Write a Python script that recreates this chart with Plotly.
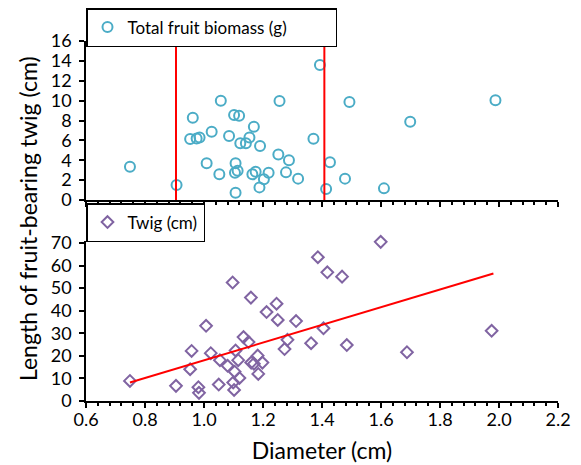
import plotly.graph_objects as go

# ---- data ----
diameter_top = [0.749, 0.907, 0.953, 0.962, 0.975, 0.985, 1.009, 1.026, 1.052, 1.057,
                1.085, 1.102, 1.105, 1.107, 1.107, 1.114, 1.119, 1.123, 1.142, 1.154,
                1.164, 1.169, 1.175, 1.188, 1.190, 1.203, 1.219, 1.252, 1.256, 1.278,
                1.288, 1.319, 1.371, 1.393, 1.414, 1.427, 1.478, 1.493, 1.610, 1.699, 1.988]
fruit_biomass = [3.35, 1.5, 6.14, 8.28, 6.2, 6.3, 3.69, 6.87, 2.58, 9.99,
                 6.44, 8.55, 2.75, 3.69, 0.74, 2.95, 8.48, 5.70, 5.70, 6.30,
                 2.58, 7.38, 2.85, 1.27, 5.43, 2.08, 2.75, 4.59, 9.96, 2.78,
                 3.99, 2.15, 6.17, 13.58, 1.11, 3.79, 2.15, 9.86, 1.17, 7.88, 10.03]

diameter_bottom = [0.749, 0.905, 0.953, 0.958, 0.981, 0.983, 1.007, 1.023, 1.050, 1.054,
                   1.080, 1.097, 1.099, 1.102, 1.104, 1.107, 1.116, 1.120, 1.134, 1.151,
                   1.159, 1.160, 1.169, 1.182, 1.184, 1.198, 1.212, 1.246, 1.250, 1.273,
                   1.283, 1.312, 1.363, 1.386, 1.405, 1.418, 1.468, 1.484, 1.599, 1.688, 1.975]
twig_length = [8.9, 6.7, 14.1, 22.2, 6.1, 3.6, 33.3, 21.2, 7.3, 18.1,
               15.6, 52.5, 8.2, 4.9, 13.0, 22.4, 18.1, 10.2, 28.3, 26.1,
               45.8, 17.0, 16.5, 20.1, 12.0, 17.0, 39.4, 43.1, 35.9, 23.0,
               27.1, 35.4, 25.6, 63.7, 32.2, 57.0, 55.1, 24.8, 70.5, 21.6, 31.1]

threshold_x = [0.905, 1.408]          # red vertical lines (top panel)
trend_x = [0.749, 1.981]              # linear trend line (bottom panel)
trend_y = [8.2, 56.5]

x_ticks = [0.6, 0.8, 1.0, 1.2, 1.4, 1.6, 1.8, 2.0, 2.2]
top_ticks = [0, 2, 4, 6, 8, 10, 12, 14, 16]
bottom_ticks = [0, 10, 20, 30, 40, 50, 60, 70]
BOTTOM_MAX = 70.8

FONT = "Lato"
TEAL = "#4BACC6"
PURPLE = "#8064A2"

fig = go.Figure()

fig.add_trace(go.Scatter(
    x=diameter_top, y=fruit_biomass, mode="markers", name="Total fruit biomass (g)",
    marker=dict(symbol="circle-open", size=10, color=TEAL, line=dict(width=2, color=TEAL)),
    xaxis="x", yaxis="y", legend="legend"))

for tx in threshold_x:
    fig.add_trace(go.Scatter(
        x=[tx, tx], y=[0, 16], mode="lines", showlegend=False,
        line=dict(color="#FF0000", width=2), xaxis="x", yaxis="y"))

fig.add_trace(go.Scatter(
    x=diameter_bottom, y=twig_length, mode="markers", name="Twig (cm)",
    marker=dict(symbol="diamond-open", size=9, color=PURPLE, line=dict(width=2, color=PURPLE)),
    cliponaxis=False, xaxis="x2", yaxis="y2", legend="legend2"))

fig.add_trace(go.Scatter(
    x=trend_x, y=trend_y, mode="lines", showlegend=False,
    line=dict(color="#FF0000", width=2), xaxis="x2", yaxis="y2"))

# The page body adds an 8px offset; design in reference pixels, then shift.
OFF = 8
W, H = 581 - OFF, 465 - OFF
ml, mr, mt, mb = 86 - OFF, 23, 8 - OFF, 64
ph = H - mt - mb


def py(pix):
    # reference pixel row -> paper fraction
    return (H - mb - (pix - OFF)) / ph


top_dom = [py(200), py(41)]
# bottom panel: 0 at row 401, 70 at row 243
bot_top_row = 401 - BOTTOM_MAX * (401 - 243) / 70
bot_dom = [py(401), py(bot_top_row)]

xcommon = dict(range=[0.6, 2.2], tickvals=x_ticks, showgrid=False, zeroline=False,
               automargin=False,
               showline=True, linecolor="black", linewidth=1.5,
               ticks="outside", ticklen=5, tickwidth=1.5, tickcolor="black",
               minor=dict(dtick=0.04, tick0=0.6, ticks="outside", ticklen=3,
                          tickwidth=1.5, tickcolor="black", showgrid=False))
ycommon = dict(showgrid=False, zeroline=False, showline=True, linecolor="black",
               automargin=False, ticklabelstandoff=4,
               linewidth=1.5, ticks="outside", ticklen=5, tickwidth=1.5,
               tickcolor="black", tickfont=dict(size=18, color="black", family=FONT))

fig.update_layout(
    template="none",
    width=W, height=H,
    margin=dict(l=ml, r=mr, t=mt, b=mb, autoexpand=False),
    paper_bgcolor="white", plot_bgcolor="white",
    font=dict(family=FONT, color="black"),
    xaxis=dict(**xcommon, domain=[0, 1], anchor="y", showticklabels=False),
    yaxis=dict(**ycommon, domain=top_dom, anchor="x", range=[0, 16], tickvals=top_ticks),
    xaxis2=dict(**xcommon, domain=[0, 1], anchor="y2", tickformat=".1f",
                ticklabelstandoff=-3,
                tickfont=dict(size=18, color="black", family=FONT),
                title=dict(text="Diameter (cm)", font=dict(size=23, family=FONT, color="black"),
                           standoff=14)),
    yaxis2=dict(**ycommon, domain=bot_dom, anchor="x2", range=[0, BOTTOM_MAX],
                tickvals=bottom_ticks),
    legend=dict(x=0, y=py(8), xanchor="left", yanchor="top", orientation="h",
                bordercolor="black", borderwidth=1.5, bgcolor="white",
                font=dict(size=17, family=FONT, color="black"),
                entrywidth=203, entrywidthmode="pixels"),
    legend2=dict(x=0, y=py(242), xanchor="left", yanchor="bottom", orientation="h",
                 bordercolor="black", borderwidth=1.5, bgcolor="white",
                 font=dict(size=17, family=FONT, color="black"),
                 entrywidth=71, entrywidthmode="pixels"),
    annotations=[dict(text="Length of fruit-bearing twig (cm)", textangle=-90,
                      xref="paper", yref="paper", x=(28 - 86) / (W - ml - mr), y=py(219),
                      xanchor="center", yanchor="middle", showarrow=False,
                      font=dict(size=23, family=FONT, color="black"))],
    showlegend=True,
)

fig.write_html("out.html")
